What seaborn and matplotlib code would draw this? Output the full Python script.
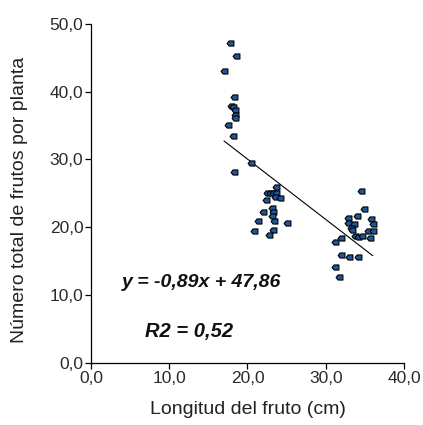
import matplotlib
matplotlib.use("Agg")
import matplotlib.pyplot as plt
from matplotlib.path import Path
from matplotlib.ticker import FuncFormatter
import seaborn as sns
import pandas as pd

# Data
longitud = [17.8, 18.6, 17.0, 18.3, 17.9, 18.2, 18.4, 18.4, 18.4, 17.5, 18.2, 20.5, 18.3,
            23.7, 22.5, 22.9, 23.3, 23.6, 23.5, 24.2, 22.4, 23.1, 22.0, 23.3, 23.1,
            21.4, 23.4, 25.1, 20.8, 23.3, 22.7,
            34.5, 34.9, 34.0, 32.8, 35.8, 32.8, 33.6, 36.1, 33.2, 33.3, 35.4, 36.1,
            33.7, 34.1, 34.6, 35.7, 31.9, 31.2, 31.9, 33.0, 34.1, 31.2, 31.7]
frutos = [47.2, 45.3, 43.0, 39.2, 37.9, 37.8, 37.3, 36.6, 36.1, 35.1, 33.4, 29.5, 28.2,
          25.9, 25.1, 25.1, 25.0, 25.1, 24.5, 24.3, 24.0, 22.8, 22.3, 22.3, 21.6,
          20.9, 20.9, 20.7, 19.5, 19.6, 18.9,
          25.4, 22.7, 21.7, 21.4, 21.2, 20.7, 20.5, 20.5, 19.9, 19.6, 19.4, 19.4,
          18.7, 18.5, 18.7, 18.4, 18.4, 17.9, 15.9, 15.6, 15.6, 14.1, 12.6]
slope = -0.89
intercept = 47.86
r2 = 0.52
line_x = [17.0, 36.0]
x_ticks = [0, 10, 20, 30, 40]
y_ticks = [0, 10, 20, 30, 40, 50]

sns.set_theme(style="ticks")
plt.rcParams['font.family'] = ['Liberation Sans', 'DejaVu Sans']

fig = plt.figure(figsize=(4.23, 4.25), dpi=100)
ax = fig.add_axes([0.215, 0.146, 0.740, 0.798])

df = pd.DataFrame({"x": longitud, "y": frutos})
arrow_box = Path([(-1, 0), (-0.4, 0.75), (1, 0.75), (1, -0.75), (-0.4, -0.75), (-1, 0)],
                 [Path.MOVETO, Path.LINETO, Path.LINETO, Path.LINETO, Path.LINETO, Path.CLOSEPOLY])
sns.scatterplot(data=df, x="x", y="y", ax=ax, marker=arrow_box, s=24,
                color="#1f5599", edgecolor="black", linewidth=0.8, zorder=3)

line_df = pd.DataFrame({"x": line_x, "y": [slope * v + intercept for v in line_x]})
sns.lineplot(data=line_df, x="x", y="y", ax=ax, color="black", linewidth=0.8, zorder=2)

ax.set_xlim(0, 40)
ax.set_ylim(0, 50)
ax.set_xticks(x_ticks)
ax.set_yticks(y_ticks)
fmt = FuncFormatter(lambda v, p: f"{v:.1f}".replace(".", ","))
ax.xaxis.set_major_formatter(fmt)
ax.yaxis.set_major_formatter(fmt)
ax.tick_params(axis="both", direction="out", length=4, width=0.9, color="black",
               labelsize=12.5, labelcolor="#2a2a2a", pad=1.5)
for s in ["top", "right"]:
    ax.spines[s].set_visible(False)
for s in ["left", "bottom"]:
    ax.spines[s].set_color("black")
    ax.spines[s].set_linewidth(0.9)

ax.set_xlabel("Longitud del fruto (cm)", fontsize=14, color="#222222", labelpad=11)
ax.set_ylabel("")
fig.text(20 / 423, 1 - 200 / 425, "Número total de frutos por planta", rotation=90,
         fontsize=14, color="#222222", ha="center", va="center")

fam = ["Liberation Sans Narrow", "Liberation Sans"]
eq = f"y = {slope:.2f}x + {intercept:.2f}".replace(".", ",")
ax.text(4.0, 11.8, eq, fontsize=14, fontweight="bold", fontstyle="italic",
        family=fam, va="center", ha="left", color="#111111")
ax.text(6.9, 4.7, f"R2 = {r2:.2f}".replace(".", ","), fontsize=14.5, fontweight="bold",
        fontstyle="italic", family=fam, va="center", ha="left", color="#111111")

fig.savefig("out.png", dpi=100)
